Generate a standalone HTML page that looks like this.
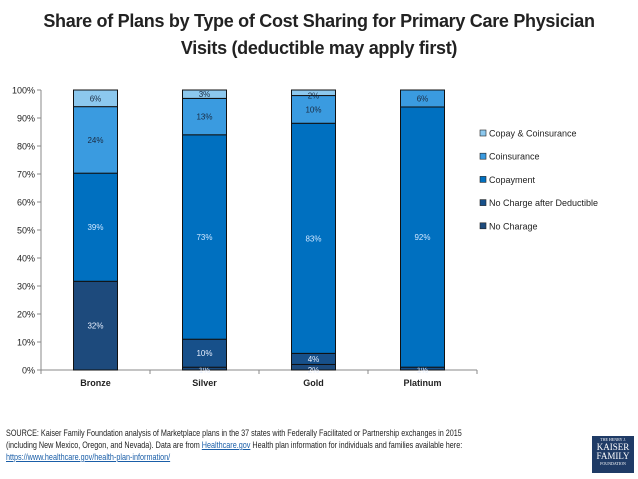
<!DOCTYPE html>
<html><head><meta charset="utf-8"><style>
body{margin:0;width:638px;height:479px;background:#fff;font-family:"Liberation Sans",sans-serif;overflow:hidden;position:relative}
#title{position:absolute;left:0;top:8px;width:638px;text-align:center;font-size:18px;font-weight:bold;color:#222;line-height:27px;letter-spacing:-0.3px}
#src{position:absolute;left:6px;top:427px;font-size:9.4px;line-height:12px;color:#222;white-space:nowrap;transform:scaleX(0.77);transform-origin:0 0}
#src a{color:#1a5ea8;text-decoration:underline}
#logo{position:absolute;left:592px;top:436px;width:42px;height:37px;background:#1f3b66;color:#fff;font-family:"Liberation Serif",serif;text-align:center;font-size:9px;line-height:9px}
</style></head><body>
<div id="title">Share of Plans by Type of Cost Sharing for Primary Care Physician<br>Visits (deductible may apply first)</div>
<svg id="chart" width="638" height="420" style="position:absolute;left:0;top:0" font-family="Liberation Sans, sans-serif"></svg>
<div id="src">SOURCE: Kaiser Family Foundation analysis of Marketplace plans in the 37 states with Federally Facilitated or Partnership exchanges in 2015<br>(including New Mexico, Oregon, and Nevada). Data are from <a>Healthcare.gov</a> Health plan information for individuals and families available here:<br><a>https://www.healthcare.gov/health-plan-information/</a></div>
<div id="logo"><div style="font-size:4px;line-height:6px;margin-top:1px">THE HENRY J.</div>KAISER<br>FAMILY<div style="font-size:4px;line-height:6px">FOUNDATION</div></div>
<script>
const categories=["Bronze","Silver","Gold","Platinum"];
const seriesNames=["No Charage","No Charge after Deductible","Copayment","Coinsurance","Copay & Coinsurance"];
const noCharge=[32,1,2,0];
const noChargeAfterDed=[0,10,4,1];
const copayment=[39,73,83,92];
const coinsurance=[24,13,10,6];
const copayCoins=[6,3,2,0];
const yTicks=[0,10,20,30,40,50,60,70,80,90,100];
const colors=["#1d4a7c","#17508a","#0070c0","#3a9be0","#8cc8ee"];
const labelColors=["#e8f0ff","#e8f0ff","#cfe6ff","#1a2a40","#1a2a40"];
const series=[noCharge,noChargeAfterDed,copayment,coinsurance,copayCoins];
const svg=document.getElementById('chart');const NS='http://www.w3.org/2000/svg';
function mk(t,a,p){const e=document.createElementNS(NS,t);for(const k in a)e.setAttribute(k,a[k]);(p||svg).appendChild(e);return e;}
const x0=41,x1=477,yTop=90,yBot=370;
const y=v=>yBot-(Math.min(v,100)/100)*(yBot-yTop);
const band=(x1-x0)/categories.length;
const xc=i=>x0+band*(i+0.5);
const bw=44;
yTicks.forEach(t=>{const tx=mk('text',{x:x0-6,y:y(t)+3.5,'text-anchor':'end','font-size':9,fill:'#222'});tx.textContent=t+'%';


mk('line',{x1:x0-4,x2:x0,y1:y(t),y2:y(t),stroke:'#888'});});
mk('line',{x1:x0,x2:x0,y1:yTop,y2:yBot,stroke:'#888'});
mk('line',{x1:x0,x2:x1,y1:yBot,y2:yBot,stroke:'#888'});
for(let i=0;i<=categories.length;i++)mk('line',{x1:x0+band*i,x2:x0+band*i,y1:yBot,y2:yBot+4,stroke:'#888'});
categories.forEach((c,i)=>{
 let total=0;series.forEach(s=>total+=s[i]);
 const sc=100/total;
 let cum=0;
 series.forEach((s,k)=>{const v=s[i];if(!v){return;}
  const a=cum,b=cum+v*sc;cum=b;
  const r=mk('rect',{x:xc(i)-bw/2,y:y(b),width:bw,height:Math.max(y(a)-y(b),0),fill:colors[k],stroke:'#111','stroke-width':1});
  
  
  const ly=v<3?y(a)+3:(y(a)+y(b))/2+3;
  const t=mk('text',{x:xc(i),y:ly,'text-anchor':'middle','font-size':8,fill:labelColors[k]});t.textContent=v+'%';
  
  
 });
 const l=mk('text',{x:xc(i),y:yBot+16,'text-anchor':'middle','font-size':9,'font-weight':'bold',fill:'#222'});l.textContent=c;
 
 
});
for(let k=4;k>=0;k--){const ly=134+(4-k)*23.2;
 const g=mk('g',{});
 
 
 mk('rect',{x:480,y:ly-4,width:6,height:6,fill:colors[k],stroke:'#222','stroke-width':0.6},g);
 const t=mk('text',{x:489,y:ly+2.5,'font-size':9,fill:'#222'},g);t.textContent=seriesNames[k];}
</script>
</body></html>
